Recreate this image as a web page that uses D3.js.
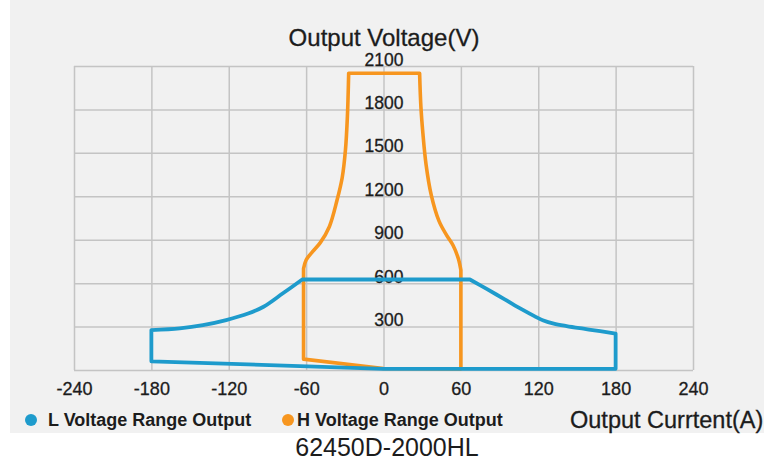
<!DOCTYPE html>
<html>
<head>
<meta charset="utf-8">
<script src="https://cdn.jsdelivr.net/npm/d3@7"></script>
<style>
  html, body { margin: 0; padding: 0; background: #ffffff; }
  svg { display: block; }
  text { font-family: "Liberation Sans", Arial, sans-serif; fill: #1c1c1c; }
</style>
</head>
<body>
<svg id="chart" width="764" height="462"></svg>
<script>
// ---- data ----
const xTicks = [-240, -180, -120, -60, 0, 60, 120, 180, 240];
const yGrid = [0, 300, 600, 900, 1200, 1500, 1800, 2100];
const yLabels = [300, 600, 900, 1200, 1500, 1800, 2100];

// L Voltage Range Output: outline pieces (current A, voltage V)
const lBottomI = [0, -180, -180];          // straight: bottom edge + left side
const lBottomV = [8, 60, 276];
const lLeftCurveI = [-180, -158, -140, -122, -105, -93, -78, -63];
const lLeftCurveV = [276, 288, 310, 345, 390, 437, 530, 625];
const lTopI = [-63, 67];                   // straight top at ~625 V
const lTopV = [625, 625];
const lRightCurveI = [67, 80, 94, 107, 117, 124, 132, 142, 155, 168, 180];
const lRightCurveV = [625, 560, 488, 420, 372, 342, 320, 303, 285, 268, 252];
const lRightEdgeI = [180, 180, 0];          // right side + bottom edge
const lRightEdgeV = [252, 8, 8];

// H Voltage Range Output: outline pieces
const hBottomI = [0, -62, -62];
const hBottomV = [10, 75, 700];
const hLeftCurveI = [-62, -60, -55, -49, -42, -36, -32, -29.5, -28, -27];
const hLeftCurveV = [700, 760, 818, 880, 990, 1174, 1330, 1520, 1750, 2050];
const hTopI = [-27, 28];
const hTopV = [2050, 2050];
const hRightCurveI = [28, 29, 30.5, 33, 37, 43, 49, 54, 58, 60];
const hRightCurveV = [2050, 1820, 1640, 1420, 1210, 1030, 930, 860, 770, 690];
const hRightEdgeI = [60, 60, 0];
const hRightEdgeV = [690, 8, 10];

const seriesNames = ["L Voltage Range Output", "H Voltage Range Output"];
const seriesColors = ["#1e9bcc", "#f7961f"];

// ---- layout ----
const svg = d3.select("#chart");
svg.append("rect").attr("x", 10).attr("y", 0).attr("width", 754).attr("height", 433).attr("fill", "#f1f1f1");

const x = d3.scaleLinear().domain([-240, 240]).range([74, 693]);
const y = d3.scaleLinear().domain([0, 2100]).range([370, 66]);

// grid
const grid = svg.append("g");
grid.append("g").attr("transform", "translate(0,370)")
  .call(d3.axisBottom(x).tickValues(xTicks).tickSize(-(370 - 66)).tickFormat(""))
  .call(g => g.select(".domain").remove())
  .call(g => g.selectAll("line").attr("stroke", "#c4c4c4").attr("stroke-width", 1.5));
grid.append("g").attr("transform", "translate(74,0)")
  .call(d3.axisLeft(y).tickValues(yGrid).tickSize(-(693 - 74)).tickFormat(""))
  .call(g => g.select(".domain").remove())
  .call(g => g.selectAll("line").attr("stroke", "#c4c4c4").attr("stroke-width", 1.5));

const styleText = (sel, size) => sel.attr("font-size", size)
  .attr("font-family", "Liberation Sans, Arial, sans-serif")
  .attr("fill", "#1c1c1c").attr("stroke", "#1c1c1c").attr("stroke-width", 0.3);

// x tick labels
svg.append("g").attr("transform", "translate(0,395)")
  .call(d3.axisBottom(x).tickValues(xTicks).tickSize(0).tickPadding(0).tickFormat(d => String(d)))
  .call(g => g.select(".domain").remove())
  .call(g => styleText(g.selectAll("text").attr("dy", 0), 18));

// y tick labels (on the x=0 axis, right aligned)
svg.append("g").attr("transform", `translate(${x(0) + 20},0)`)
  .call(d3.axisLeft(y).tickValues(yLabels).tickSize(0).tickPadding(0).tickFormat(d => String(d)))
  .call(g => g.select(".domain").remove())
  .call(g => styleText(g.selectAll("text").attr("dy", -1), 17.5));

// series outlines
function outline(pieces) {
  return pieces.map((p, i) => {
    const pts = p.I.map((c, k) => [c, p.V[k]]);
    const d = d3.line().x(q => x(q[0])).y(q => y(q[1])).curve(p.curve)(pts);
    return i ? d.replace(/^M/, "L") : d;
  }).join("") + "Z";
}
const smooth = d3.curveCatmullRom.alpha(0.5);
const hPath = outline([
  { I: hBottomI, V: hBottomV, curve: d3.curveLinear },
  { I: hLeftCurveI, V: hLeftCurveV, curve: smooth },
  { I: hTopI, V: hTopV, curve: d3.curveLinear },
  { I: hRightCurveI, V: hRightCurveV, curve: smooth },
  { I: hRightEdgeI, V: hRightEdgeV, curve: d3.curveLinear }
]);
const lPath = outline([
  { I: lBottomI, V: lBottomV, curve: d3.curveLinear },
  { I: lLeftCurveI, V: lLeftCurveV, curve: smooth },
  { I: lTopI, V: lTopV, curve: d3.curveLinear },
  { I: lRightCurveI, V: lRightCurveV, curve: smooth },
  { I: lRightEdgeI, V: lRightEdgeV, curve: d3.curveLinear }
]);
svg.append("path").attr("d", hPath).attr("fill", "none")
  .attr("stroke", seriesColors[1]).attr("stroke-width", 3.6).attr("stroke-linejoin", "round");
svg.append("path").attr("d", lPath).attr("fill", "none")
  .attr("stroke", seriesColors[0]).attr("stroke-width", 3.8).attr("stroke-linejoin", "round");

// titles
styleText(svg.append("text").attr("x", 384).attr("y", 46).attr("text-anchor", "middle"), 24)
  .text("Output Voltage(V)");
styleText(svg.append("text").attr("x", 570).attr("y", 428), 23.5).text("Output Currtent(A)");
svg.append("text").attr("x", 387).attr("y", 456).attr("text-anchor", "middle")
  .attr("font-size", 25).attr("fill", "#1c1c1c").text("62450D-2000HL");

// legend
const legendDotX = [31, 288];
const legendTextX = [48, 297];
seriesNames.forEach((n, i) => {
  svg.append("circle").attr("cx", legendDotX[i]).attr("cy", 420).attr("r", 6).attr("fill", seriesColors[i]);
  svg.append("text").attr("x", legendTextX[i]).attr("y", 426).attr("font-size", 18)
    .attr("font-weight", "bold").attr("fill", "#1c1c1c").text(n);
});
</script>
</body>
</html>
